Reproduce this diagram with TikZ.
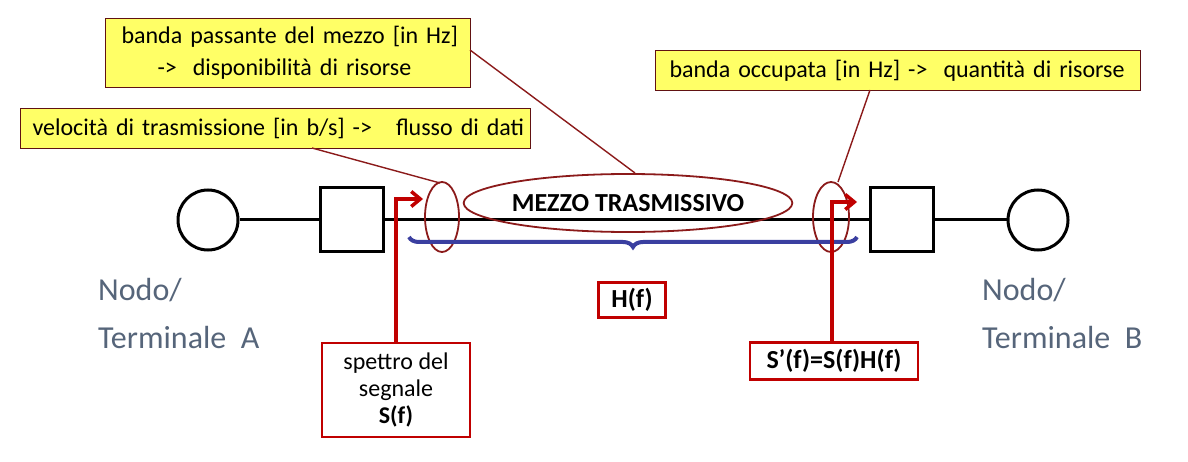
\documentclass[tikz,border=0pt]{standalone}
\usepackage{fontspec}
\setmainfont{Carlito}
\usetikzlibrary{arrows.meta,decorations.pathreplacing,shapes.geometric}
\definecolor{dred}{HTML}{8B1A1A}
\definecolor{rred}{HTML}{C00000}
\definecolor{yel}{HTML}{FFFF66}
\definecolor{blu}{HTML}{3A3FA0}
\definecolor{gtx}{HTML}{56657A}
\begin{document}
\begin{tikzpicture}[x=1pt,y=-1pt,
  ybox/.style={draw=dred!70!black,fill=yel,line width=1pt,font=\fontsize{24}{32}\selectfont,align=left,inner sep=0pt,anchor=north west},
  rbox/.style={draw=rred,line width=2.5pt,font=\fontsize{24}{27}\selectfont,align=center,inner sep=0pt},
  term/.style={circle,draw,line width=3pt,minimum size=60pt,inner sep=0},
  sq/.style={draw,line width=3pt,minimum width=63pt,minimum height=64pt,inner sep=0},
  lbl/.style={text=gtx,font=\fontsize{32}{48}\selectfont,align=left,anchor=north west,inner sep=0},
  call/.style={dred,line width=1.4pt},
  rarr/.style={rred,line width=3.5pt,-{Straight Barb[length=9pt,width=15pt]}}]
\useasboundingbox (0,0) rectangle (1188,462);
\node[term] (ca) at (208,220) {};
\node[sq] (sa) at (351.5,220) {};
\node[sq] (sb) at (901.5,220) {};
\node[term] (cb) at (1038,220) {};
\draw[line width=3pt] (ca) -- (sa) (sa) -- (sb) (sb) -- (cb);
\node[lbl] (la) at (98,278) {Nodo/\\Terminale\ \ A};
\node[lbl] (lb) at (982,278) {Nodo/\\Terminale\ \ B};
\node[ellipse,draw=dred,line width=1.8pt,minimum width=287pt,minimum height=58pt,inner sep=0,font=\bfseries\fontsize{26}{30}\selectfont] (mz) at (628,203) {MEZZO TRASMISSIVO};
\node[ellipse,draw=dred,line width=1.8pt,minimum width=34pt,minimum height=70pt,inner sep=0] (el) at (442,217) {};
\node[ellipse,draw=dred,line width=1.8pt,minimum width=36pt,minimum height=70pt,inner sep=0] (er) at (831,217) {};
\node[ybox,minimum width=365pt,minimum height=69pt,text width=365pt] (y1) at (105,18) {\hspace*{16pt}banda passante del mezzo [in Hz]\\\hspace*{52pt}->\ \ disponibilità di risorse};
\node[ybox,minimum width=510pt,minimum height=40pt,text width=510pt] (y2) at (20,108) {\hspace*{12pt}velocità di trasmissione [in b/s] ->\ \ \ flusso di dati};
\node[ybox,minimum width=485pt,minimum height=40pt,text width=485pt] (y3) at (655,50) {\hspace*{14pt}banda occupata [in Hz] ->\ \ quantità di risorse};
\coordinate (a1) at (470,50); \coordinate (a2) at (635,173);
\coordinate (b1) at (312,148); \coordinate (b2) at (440,183);
\coordinate (c1) at (870,90); \coordinate (c2) at (838,182);
\draw[call] (a1) -- (a2);
\draw[call] (b1) -- (b2);
\draw[call] (c1) -- (c2);
\draw[blu,line width=4pt,decorate,decoration={brace,mirror,amplitude=10pt}] (409,237) -- (857,237);
\node[rbox,font=\bfseries\fontsize{26}{30}\selectfont,minimum width=67pt,minimum height=35pt] (hf) at (632,300) {H(f)};
\node[rbox,minimum width=148pt,minimum height=94pt] (sf) at (396,390) {spettro del\\segnale\\\textbf{S(f)}};
\node[rbox,font=\bfseries\fontsize{26}{30}\selectfont,minimum width=168pt,minimum height=37pt] (sp) at (834,361) {S’(f)=S(f)H(f)};
\coordinate (p1) at (396,343); \coordinate (p2) at (396,199); \coordinate (p3) at (423,199);
\draw[rarr] (p1) -- (p2) -- (p3);
\coordinate (q1) at (832,342.5); \coordinate (q2) at (832,202); \coordinate (q3) at (857,202);
\draw[rarr] (q1) -- (q2) -- (q3);
\end{tikzpicture}
\end{document}
